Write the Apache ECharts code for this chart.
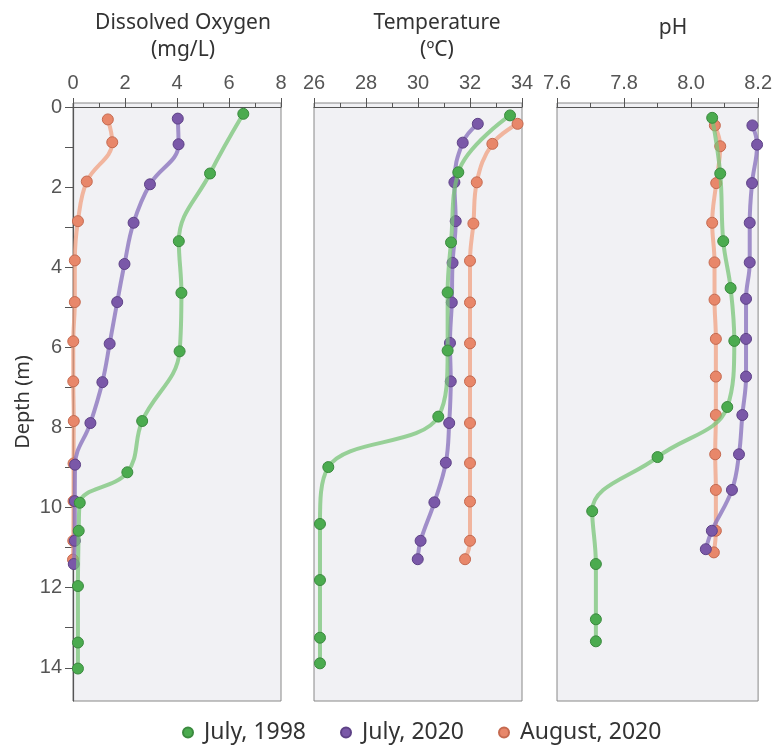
<!DOCTYPE html>
<html>
<head>
<meta charset="utf-8">
<script src="https://cdn.jsdelivr.net/npm/echarts@6/dist/echarts.min.js"></script>
<style>
  html, body { margin: 0; padding: 0; background: #fff; }
  #chart { width: 775px; height: 746px; }
</style>
</head>
<body>
<div id="chart"></div>
<script>
// depth profiles (depth in m)
var seriesNames = ['July, 1998', 'July, 2020', 'August, 2020']

// dissolved oxygen (mg/L)
var doDepth1998 = [0.17, 1.66, 3.35, 4.64, 6.10, 7.84, 9.12, 9.88, 10.58, 11.96, 13.37, 14.02]
var do1998 = [6.55, 5.27, 4.07, 4.17, 4.10, 2.66, 2.09, 0.26, 0.22, 0.19, 0.19, 0.19]
var doDepthJul20 = [0.29, 0.93, 1.93, 2.89, 3.92, 4.87, 5.91, 6.87, 7.89, 8.93, 9.84, 10.83, 11.41]
var doJul20 = [4.03, 4.06, 2.96, 2.33, 1.98, 1.70, 1.41, 1.13, 0.67, 0.08, 0.07, 0.07, 0.03]
var doDepthAug20 = [0.31, 0.88, 1.86, 2.85, 3.83, 4.87, 5.85, 6.85, 7.84, 8.90, 9.84, 10.83, 11.30]
var doAug20 = [1.34, 1.51, 0.53, 0.19, 0.07, 0.07, 0.01, 0.01, 0.03, 0.02, 0.02, 0.01, 0.0]

// temperature (oC)
var tDepth1998 = [0.21, 1.63, 3.38, 4.63, 6.08, 7.73, 8.99, 10.41, 11.81, 13.25, 13.89]
var t1998 = [33.54, 31.55, 31.27, 31.14, 31.14, 30.78, 26.55, 26.23, 26.23, 26.23, 26.23]
var tDepthJul20 = [0.42, 0.89, 1.88, 2.85, 3.89, 4.88, 5.89, 6.85, 7.89, 8.88, 9.87, 10.83, 11.29]
var tJul20 = [32.30, 31.72, 31.40, 31.45, 31.33, 31.30, 31.23, 31.26, 31.20, 31.07, 30.63, 30.10, 29.99]
var tDepthAug20 = [0.42, 0.92, 1.88, 2.91, 3.84, 4.88, 5.90, 6.85, 7.89, 8.89, 9.85, 10.83, 11.29]
var tAug20 = [33.83, 32.86, 32.26, 32.13, 32.0, 32.0, 32.0, 32.0, 32.0, 32.0, 32.0, 32.0, 31.81]

// pH
var phDepth1998 = [0.27, 1.66, 3.35, 4.52, 5.84, 7.49, 8.74, 10.09, 11.41, 12.79, 13.34]
var ph1998 = [8.063, 8.087, 8.096, 8.118, 8.129, 8.108, 7.900, 7.705, 7.716, 7.716, 7.716]
var phDepthJul20 = [0.46, 0.94, 1.90, 2.89, 3.88, 4.79, 5.79, 6.73, 7.69, 8.67, 9.56, 10.58, 11.04]
var phJul20 = [8.183, 8.197, 8.182, 8.175, 8.175, 8.164, 8.164, 8.164, 8.153, 8.143, 8.122, 8.062, 8.044]
var phDepthAug20 = [0.46, 0.98, 1.90, 2.89, 3.88, 4.81, 5.79, 6.73, 7.69, 8.67, 9.56, 10.58, 11.12]
var phAug20 = [8.071, 8.087, 8.075, 8.063, 8.070, 8.070, 8.074, 8.074, 8.074, 8.072, 8.074, 8.074, 8.068]

var depthTicks = [0, 1, 2, 3, 4, 5, 6, 7, 8, 9, 10, 11, 12, 13, 14]
var depthLabels = [0, 2, 4, 6, 8, 10, 12, 14]

var pointColors = ['#4bab4f', '#7a58a8', '#e8876a']
var pointBorders = ['#3b8a3f', '#5e4287', '#c56a50']
var lineColors = ['rgba(120,196,120,0.75)', 'rgba(140,118,190,0.8)', 'rgba(240,160,130,0.75)']

var tickFont = 'Liberation Sans'
var textFont = 'Noto Sans'

function zip (xs, ys) {
  return xs.map(function (x, i) { return [x, ys[i]] })
}

function makeSeries (idx, gridIdx, xs, depths) {
  return {
    name: seriesNames[idx],
    type: 'line',
    xAxisIndex: gridIdx,
    yAxisIndex: gridIdx,
    data: zip(xs, depths),
    smooth: 0.4,
    symbol: 'circle',
    symbolSize: 11,
    z: 10 - idx,
    lineStyle: { color: lineColors[idx], width: 4 },
    itemStyle: { color: pointColors[idx], borderColor: pointBorders[idx], borderWidth: 1 },
    emphasis: { disabled: true }
  }
}

function xAxisFor (gridIdx, min, max, interval, digits) {
  return {
    gridIndex: gridIdx,
    type: 'value',
    position: 'top',
    min: min,
    max: max,
    interval: interval,
    splitLine: { show: false },
    axisLine: { show: true, lineStyle: { color: '#555', width: 1.2 } },
    axisTick: { show: true, inside: false, length: 9, lineStyle: { color: '#555' } },
    minorTick: { show: true, splitNumber: 2, length: 4, lineStyle: { color: '#555' } },
    axisLabel: {
      margin: 10,
      fontFamily: tickFont,
      fontSize: 20,
      color: '#555',
      formatter: function (v) { return v.toFixed(digits) }
    }
  }
}

function yAxisFor (gridIdx, showLabels) {
  return {
    gridIndex: gridIdx,
    type: 'value',
    inverse: true,
    min: -0.1,
    max: 14.83,
    name: showLabels ? 'Depth (m)' : '',
    nameLocation: 'middle',
    nameGap: 40,
    nameRotate: 90,
    nameTextStyle: { fontFamily: textFont, fontSize: 20, color: '#333' },
    splitLine: { show: false },
    axisLine: { show: showLabels, lineStyle: { color: '#555', width: 1.2 } },
    axisTick: {
      show: showLabels,
      length: 8,
      customValues: depthTicks,
      lineStyle: { color: '#555' }
    },
    axisLabel: {
      show: showLabels,
      customValues: depthLabels,
      margin: 11,
      fontFamily: tickFont,
      fontSize: 20,
      color: '#555'
    }
  }
}

var gridBase = {
  top: 103,
  height: 598,
  width: 208,
  show: true,
  backgroundColor: '#f1f1f4',
  borderColor: '#888',
  borderWidth: 1
}

var chart = echarts.init(document.getElementById('chart'), null, { renderer: 'canvas' })

var option = {
  animation: false,
  title: [
    { text: 'Dissolved Oxygen\n(mg/L)', left: 178, top: 5, textAlign: 'center',
      textStyle: { fontFamily: textFont, fontSize: 21, fontWeight: 'normal', color: '#333', lineHeight: 27 } },
    { text: 'Temperature\n(ºC)', left: 432, top: 5, textAlign: 'center',
      textStyle: { fontFamily: textFont, fontSize: 21, fontWeight: 'normal', color: '#333', lineHeight: 27 } },
    { text: 'pH', left: 668, top: 13, textAlign: 'center',
      textStyle: { fontFamily: textFont, fontSize: 21, fontWeight: 'normal', color: '#333' } }
  ],
  legend: {
    data: seriesNames,
    left: 177,
    top: 716,
    icon: 'circle',
    itemWidth: 10,
    itemHeight: 10,
    itemGap: 34,
    textStyle: { fontFamily: textFont, fontSize: 23, color: '#333', padding: [0, 0, 0, 6] }
  },
  grid: [
    Object.assign({}, gridBase, { left: 73 }),
    Object.assign({}, gridBase, { left: 314 }),
    Object.assign({}, gridBase, { left: 557 })
  ],
  xAxis: [
    xAxisFor(0, 0, 8, 2, 0),
    xAxisFor(1, 26, 34, 2, 0),
    xAxisFor(2, 7.6, 8.2, 0.2, 1)
  ],
  yAxis: [
    yAxisFor(0, true),
    yAxisFor(1, false),
    yAxisFor(2, false)
  ],
  series: [
    makeSeries(0, 0, do1998, doDepth1998),
    makeSeries(1, 0, doJul20, doDepthJul20),
    makeSeries(2, 0, doAug20, doDepthAug20),
    makeSeries(0, 1, t1998, tDepth1998),
    makeSeries(1, 1, tJul20, tDepthJul20),
    makeSeries(2, 1, tAug20, tDepthAug20),
    makeSeries(0, 2, ph1998, phDepth1998),
    makeSeries(1, 2, phJul20, phDepthJul20),
    makeSeries(2, 2, phAug20, phDepthAug20)
  ]
}

chart.setOption(option)
</script>
</body>
</html>
